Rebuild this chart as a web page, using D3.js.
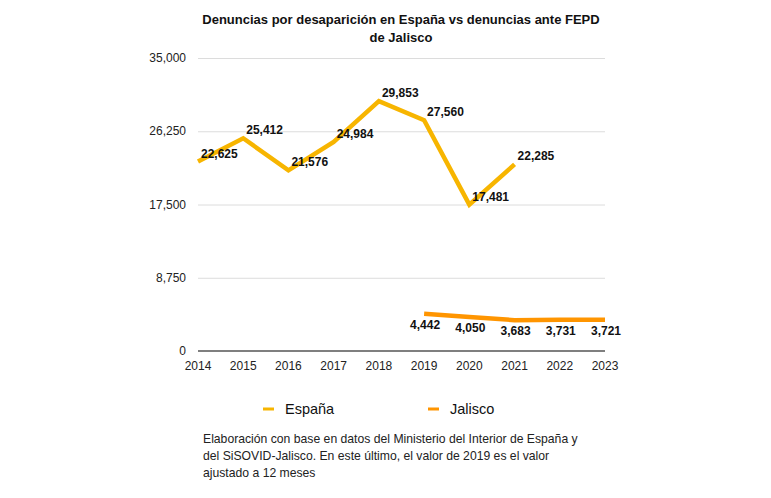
<!DOCTYPE html>
<html>
<head>
<meta charset="utf-8">
<style>
    body { margin: 0; background: #fff; font-family: 'Liberation Sans', Arial, Helvetica, sans-serif; }
    svg { display: block; }
    .grid line { stroke: #dcdcdc; stroke-width: 1; }
    .grid .domain { display: none; }
    .y text, .x text { font-size: 12px; fill: #222; }
    .title { font-size: 13px; font-weight: bold; fill: #111; }
    .val { font-size: 12px; font-weight: bold; fill: #111; }
    .legend { font-size: 14.5px; fill: #111; }
    .note { font-size: 12.2px; fill: #222; }
</style>
</head>
<body>
<svg width="771" height="498"></svg>
<script src="https://d3js.org/d3.v7.min.js"></script>
<script>
// data
let years = [2014, 2015, 2016, 2017, 2018, 2019, 2020, 2021, 2022, 2023]
let espana = [22625, 25412, 21576, 24984, 29853, 27560, 17481, 22285, null, null]
let jalisco = [null, null, null, null, null, 4442, 4050, 3683, 3731, 3721]
let yTicks = [0, 8750, 17500, 26250, 35000]

let colorEsp = "#f7b500"
let colorJal = "#ff9500"

let svg = d3.select("svg")

let margin = { top: 58, left: 198, right: 605, bottom: 351 }

let x = d3.scalePoint()
    .domain(years)
    .range([margin.left, margin.right])

let y = d3.scaleLinear()
    .domain([0, 35000])
    .range([margin.bottom, margin.top])

// title
svg.append("text").attr("class", "title")
    .attr("x", 401).attr("y", 24).attr("text-anchor", "middle")
    .text("Denuncias por desaparición en España vs denuncias ante FEPD")
svg.append("text").attr("class", "title")
    .attr("x", 401).attr("y", 42).attr("text-anchor", "middle")
    .text("de Jalisco")

// gridlines
svg.append("g")
    .attr("class", "grid")
    .attr("transform", `translate(${margin.left},0)`)
    .call(d3.axisLeft(y).tickValues(yTicks.slice(1)).tickSize(-(margin.right - margin.left)).tickFormat(""))

// y labels
svg.append("g")
    .attr("class", "y")
    .selectAll("text")
    .data(yTicks)
    .join("text")
    .attr("x", 186)
    .attr("y", d => y(d) + 4)
    .attr("text-anchor", "end")
    .text(d => d3.format(",")(d))

// baseline
svg.append("line")
    .attr("x1", margin.left).attr("x2", margin.right)
    .attr("y1", y(0)).attr("y2", y(0))
    .attr("stroke", "#555").attr("stroke-width", 1.5)

// x labels
svg.append("g")
    .attr("class", "x")
    .selectAll("text")
    .data(years)
    .join("text")
    .attr("x", d => x(d))
    .attr("y", 370)
    .attr("text-anchor", "middle")
    .text(d => d)

let line = d3.line()
    .defined(d => d[1] != null)
    .x(d => x(d[0]))
    .y(d => y(d[1]))

let espData = years.map((d, i) => [d, espana[i]])
let jalData = years.map((d, i) => [d, jalisco[i]])

svg.append("path")
    .datum(espData)
    .attr("fill", "none")
    .attr("stroke", colorEsp)
    .attr("stroke-width", 4.5)
    .attr("stroke-linejoin", "miter")
    .attr("d", line)

svg.append("path")
    .datum(jalData)
    .attr("fill", "none")
    .attr("stroke", colorJal)
    .attr("stroke-width", 4.5)
    .attr("d", line)

// value labels
svg.append("g")
    .selectAll("text")
    .data(espData.filter(d => d[1] != null))
    .join("text")
    .attr("class", "val")
    .attr("x", d => x(d[0]) + 3)
    .attr("y", d => y(d[1]) - 4)
    .text(d => d3.format(",")(d[1]))

svg.append("g")
    .selectAll("text")
    .data(jalData.filter(d => d[1] != null))
    .join("text")
    .attr("class", "val")
    .attr("x", d => x(d[0]) + 1)
    .attr("y", d => y(d[1]) + 15)
    .attr("text-anchor", "middle")
    .text(d => d3.format(",")(d[1]))

// legend
let legend = [["España", colorEsp, 263], ["Jalisco", colorJal, 428]]
legend.forEach(l => {
    svg.append("line")
        .attr("x1", l[2]).attr("x2", l[2] + 11)
        .attr("y1", 409).attr("y2", 409)
        .attr("stroke", l[1]).attr("stroke-width", 3)
    svg.append("text").attr("class", "legend")
        .attr("x", l[2] + 22).attr("y", 414)
        .text(l[0])
})

// note
let note = [
    "Elaboración con base en datos del Ministerio del Interior de España y",
    "del SiSOVID-Jalisco. En este último, el valor de 2019 es el valor",
    "ajustado a 12 meses"
]
svg.append("g")
    .selectAll("text")
    .data(note)
    .join("text")
    .attr("class", "note")
    .attr("x", 203)
    .attr("y", (d, i) => 443 + i * 17)
    .text(d => d)
</script>
</body>
</html>
